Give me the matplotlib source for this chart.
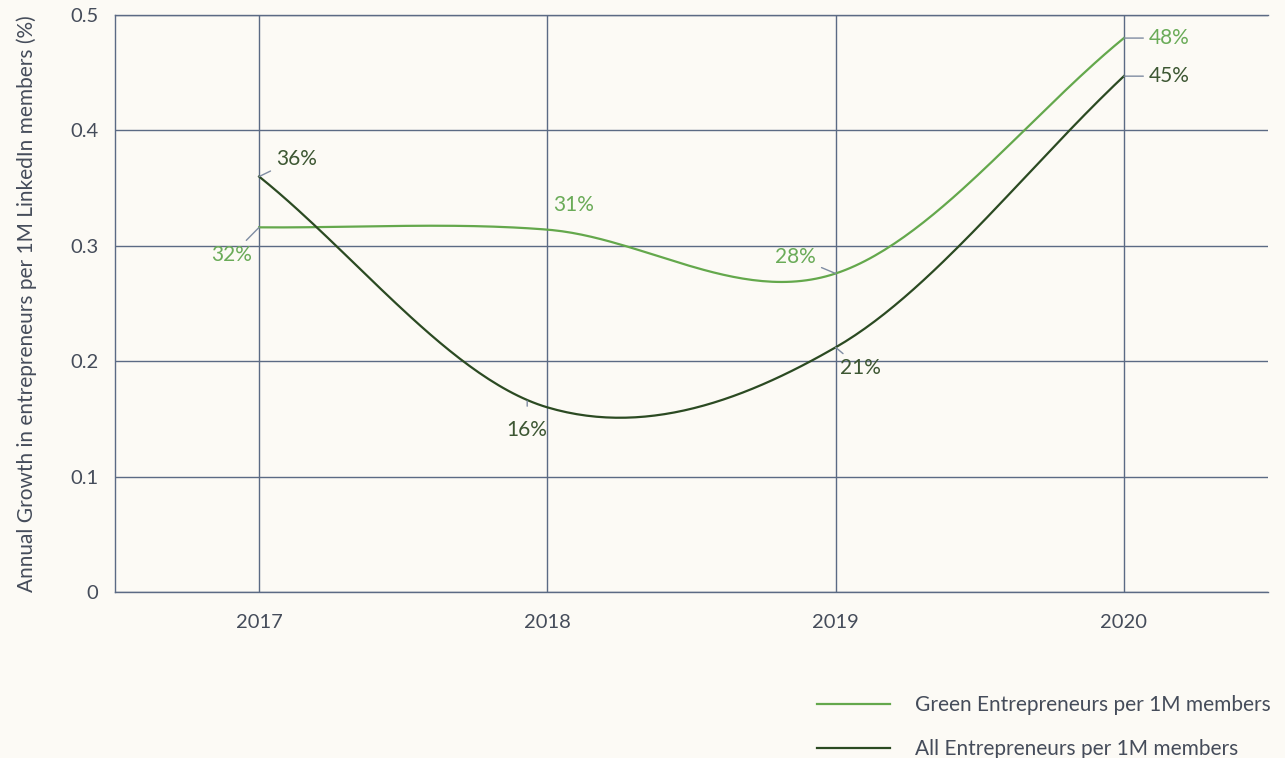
import numpy as np
import matplotlib
matplotlib.use("Agg")
import matplotlib.pyplot as plt

years = [2017, 2018, 2019, 2020]
green = [0.316, 0.314, 0.276, 0.48]
all_ent = [0.36, 0.16, 0.212, 0.447]
green_labels = ["32%", "31%", "28%", "48%"]
all_labels = ["36%", "16%", "21%", "45%"]

BG = "#fcfaf5"
GRID = "#5b6a84"
LEADER = "#7f8ca2"
GREEN = "#64a84c"
GREEN_TXT = "#6aab58"
DARK = "#2b4a22"
DARK_TXT = "#3d5733"
TXT = "#454c5a"

plt.rcParams['font.family'] = ['Lato', 'DejaVu Sans']


def smooth(xs, ys, n=60):
    # catmull-rom style curve through the points
    xs = np.asarray(xs, float)
    ys = np.asarray(ys, float)
    m = np.zeros_like(ys)
    m[1:-1] = (ys[2:] - ys[:-2]) / (xs[2:] - xs[:-2])
    m[0] = (ys[1] - ys[0]) / (xs[1] - xs[0])
    m[-1] = (ys[-1] - ys[-2]) / (xs[-1] - xs[-2])
    outx, outy = [], []
    for i in range(len(xs) - 1):
        h = xs[i + 1] - xs[i]
        t = np.linspace(0, 1, n)
        h00 = 2 * t**3 - 3 * t**2 + 1
        h10 = t**3 - 2 * t**2 + t
        h01 = -2 * t**3 + 3 * t**2
        h11 = t**3 - t**2
        outx.extend(xs[i] + t * h)
        outy.extend(h00 * ys[i] + h10 * h * m[i] + h01 * ys[i + 1] + h11 * h * m[i + 1])
    return np.array(outx), np.array(outy)


fig = plt.figure(figsize=(12.85, 7.58), dpi=100, facecolor=BG)
ax = fig.add_axes([115 / 1285, 1 - 592 / 758, (1268 - 115) / 1285, (592 - 15) / 758])
ax.set_facecolor(BG)

gx, gy = smooth(years, green)
ax.plot(gx, gy, color=GREEN, lw=1.6, label="Green Entrepreneurs per 1M members", zorder=3)
dx, dy = smooth(years, all_ent)
ax.plot(dx, dy, color=DARK, lw=1.6, label="All Entrepreneurs per 1M members", zorder=3)

ax.set_xlim(2016.5, 2020.5)
ax.set_ylim(0, 0.5)
ax.set_xticks(years)
ax.set_xticklabels([str(y) for y in years])
ax.set_yticks([0, 0.1, 0.2, 0.3, 0.4, 0.5])
ax.set_yticklabels(["0", "0.1", "0.2", "0.3", "0.4", "0.5"])
ax.tick_params(length=0, labelsize=14.5, colors=TXT)
ax.tick_params(axis='y', pad=12)
ax.tick_params(axis='x', pad=16)
ax.grid(True, color=GRID, lw=1)
for s in ["left", "top", "bottom"]:
    ax.spines[s].set_color(GRID)
    ax.spines[s].set_linewidth(1)
ax.spines["right"].set_visible(False)
ax.set_ylabel("Annual Growth in entrepreneurs per 1M LinkedIn members (%)",
              fontsize=15, color=TXT, labelpad=24)


def label(x, y, txt, color, dx, dy, ha, va, lead=True):
    ax.annotate(txt, xy=(x, y), xytext=(dx, dy), textcoords="offset points",
                ha=ha, va=va, fontsize=15, color=color,
                arrowprops=dict(arrowstyle="-", color=LEADER, lw=1,
                                shrinkA=2, shrinkB=0) if lead else None)


# green series labels
label(years[0], green[0], green_labels[0], GREEN_TXT, -5, -20, "right", "center")
label(years[1], green[1], green_labels[1], GREEN_TXT, 4, 18, "left", "center", lead=False)
label(years[2], green[2], green_labels[2], GREEN_TXT, -14, 12, "right", "center")
label(years[3], green[3], green_labels[3], GREEN_TXT, 18, 0, "left", "center")
# all series labels
label(years[0], all_ent[0], all_labels[0], DARK_TXT, 12, 13, "left", "center")
ax.annotate(all_labels[1], xy=(2017.93, 0.168), xytext=(0, -23), textcoords="offset points",
            ha="center", va="center", fontsize=15, color=DARK_TXT,
            arrowprops=dict(arrowstyle="-", color=LEADER, lw=1, shrinkA=8, shrinkB=2))
label(years[2], all_ent[2], all_labels[2], DARK_TXT, 3, -15, "left", "center")
label(years[3], all_ent[3], all_labels[3], DARK_TXT, 18, 0, "left", "center")

fig.legend(loc="upper left", bbox_to_anchor=(817 / 1285, 1 - 695 / 758),
           frameon=False, fontsize=15, handlelength=3.5, handletextpad=1.2,
           labelspacing=1.15, borderpad=0, borderaxespad=0, labelcolor=TXT)

fig.savefig("out.png", dpi=100, facecolor=BG)
